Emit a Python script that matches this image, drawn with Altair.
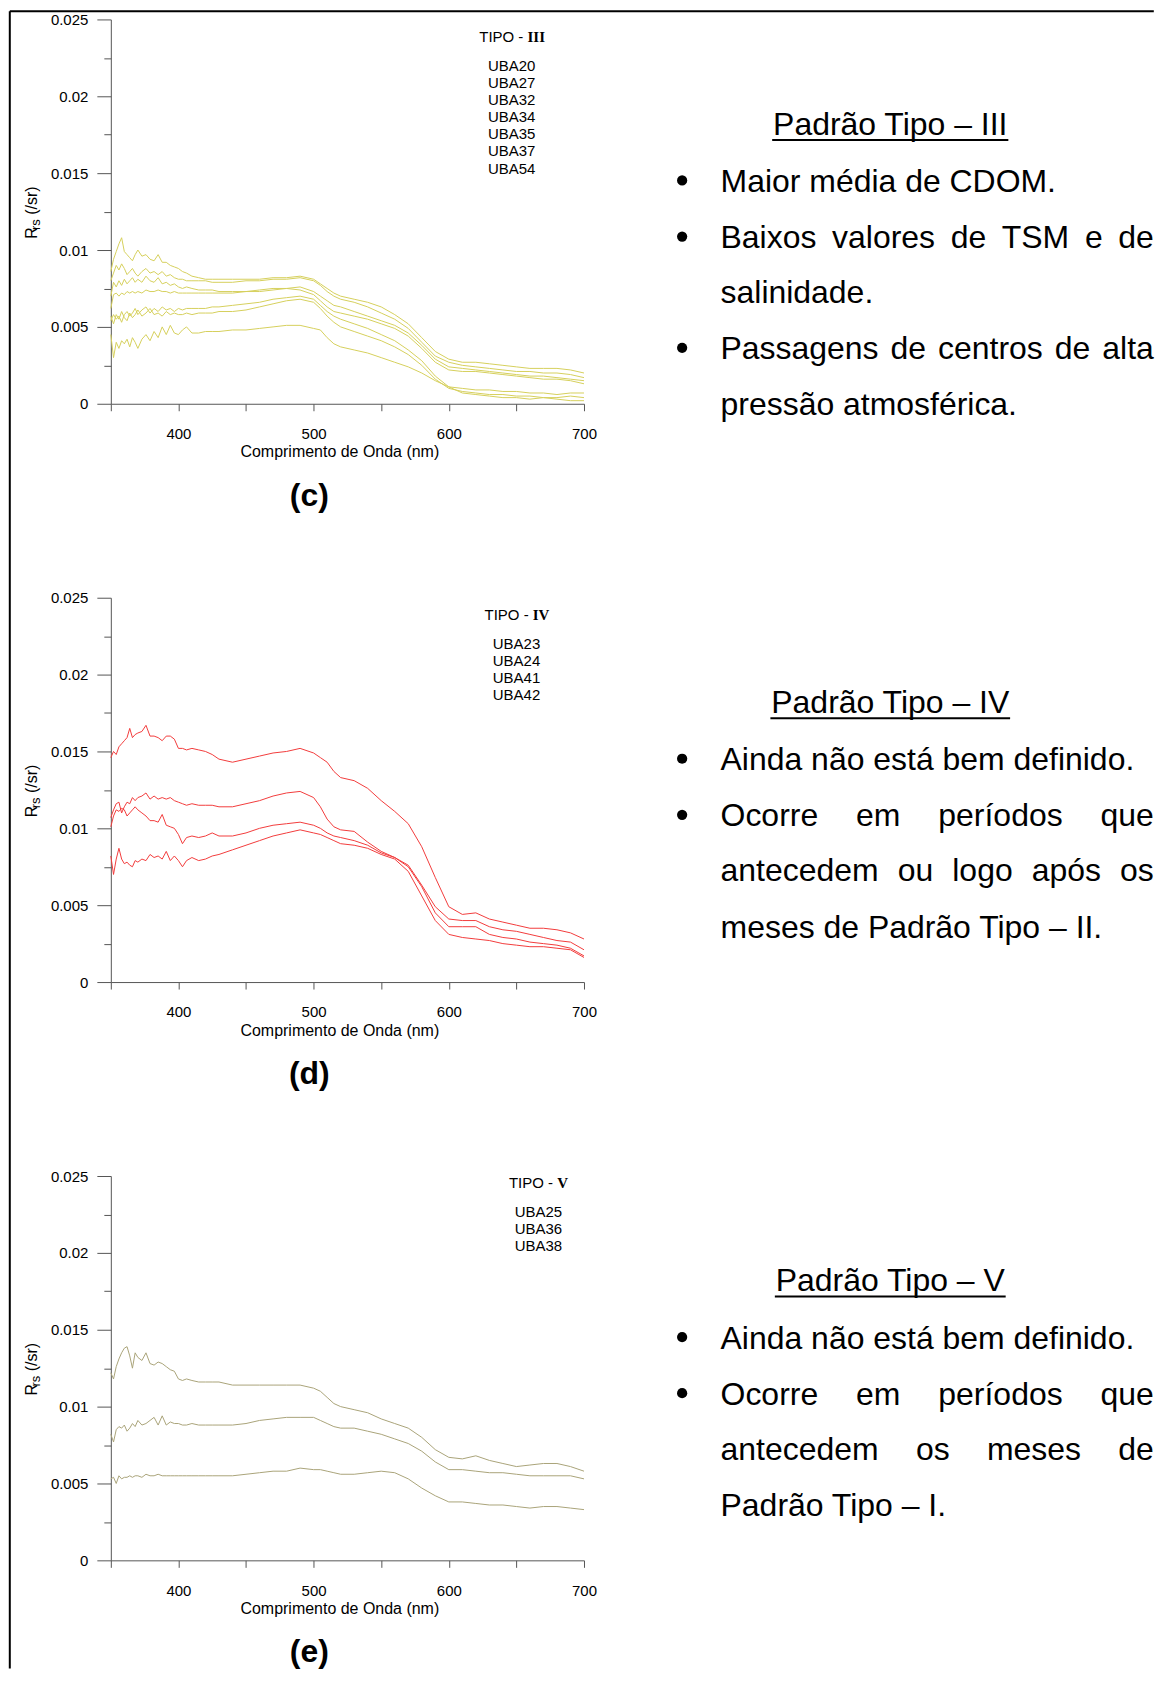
import altair as alt
import pandas as pd

# ---------------- data ----------------
WL = [350, 352, 354, 356, 358, 360, 362, 364, 366, 368, 370,
      373, 376, 379, 382, 385, 388, 391, 394, 397,
      400, 403, 406, 410, 415, 420, 425, 430,
      440, 450, 460, 470, 480, 490, 500,
      505, 510, 515, 520,
      530, 540, 550, 560, 570, 580, 590, 600, 610,
      620, 630, 640, 650, 660, 670, 680, 690, 700]

C_NAMES = ["UBA20", "UBA27", "UBA32", "UBA34", "UBA35", "UBA37", "UBA54"]
C1 = [0.0086, 0.0094, 0.0099, 0.0104, 0.0108, 0.0099, 0.0097, 0.0095, 0.0093, 0.0097, 0.0100,
      0.0096, 0.0097, 0.0094, 0.0093, 0.0097, 0.0092, 0.0092, 0.0090, 0.0089,
      0.0088, 0.0086, 0.0085, 0.0083, 0.0082, 0.0081, 0.0081, 0.0081,
      0.0081, 0.0081, 0.0081, 0.0082, 0.0082, 0.0083, 0.0081,
      0.0078, 0.0075, 0.0072, 0.0070,
      0.0068, 0.0066, 0.0063, 0.0058, 0.0052, 0.0043, 0.0034, 0.0029, 0.0027,
      0.0027, 0.0026, 0.0025, 0.0024, 0.0023, 0.0023, 0.0023, 0.0022, 0.0020]
C2 = [0.0080, 0.0085, 0.0090, 0.0087, 0.0091, 0.0088, 0.0084, 0.0086, 0.0088, 0.0085, 0.0083,
      0.0086, 0.0088, 0.0085, 0.0086, 0.0084, 0.0086, 0.0083, 0.0084, 0.0082,
      0.0081, 0.0081, 0.0080, 0.0080, 0.0080, 0.0080, 0.0079, 0.0079,
      0.0079, 0.0080, 0.0080, 0.0081, 0.0081, 0.0082, 0.0080,
      0.0077, 0.0073, 0.0070, 0.0068,
      0.0066, 0.0063, 0.0059, 0.0055, 0.0049, 0.0040, 0.0031, 0.0027, 0.0025,
      0.0024, 0.0023, 0.0022, 0.0021, 0.0021, 0.0020, 0.0020, 0.0019, 0.0017]
C3 = [0.0070, 0.0079, 0.0076, 0.0080, 0.0077, 0.0081, 0.0078, 0.0080, 0.0082, 0.0079, 0.0081,
      0.0079, 0.0083, 0.0080, 0.0079, 0.0082, 0.0078, 0.0079, 0.0077, 0.0078,
      0.0076, 0.0075, 0.0076, 0.0075, 0.0074, 0.0074, 0.0074, 0.0073,
      0.0073, 0.0073, 0.0074, 0.0075, 0.0075, 0.0076, 0.0073,
      0.0070, 0.0067, 0.0064, 0.0063,
      0.0060, 0.0057, 0.0054, 0.0051, 0.0046, 0.0038, 0.0029, 0.0024, 0.0023,
      0.0022, 0.0021, 0.0020, 0.0019, 0.0018, 0.0018, 0.0017, 0.0016, 0.0015]
C4 = [0.0062, 0.0071, 0.0072, 0.0070, 0.0072, 0.0071, 0.0073, 0.0072, 0.0073, 0.0072, 0.0073,
      0.0072, 0.0074, 0.0073, 0.0073, 0.0074, 0.0073, 0.0073, 0.0072, 0.0073,
      0.0072, 0.0072, 0.0072, 0.0072, 0.0072, 0.0072, 0.0072, 0.0072,
      0.0072, 0.0073, 0.0073, 0.0074, 0.0075, 0.0074, 0.0071,
      0.0067, 0.0063, 0.0060, 0.0059,
      0.0057, 0.0055, 0.0052, 0.0049, 0.0044, 0.0036, 0.0027, 0.0022, 0.0021,
      0.0021, 0.0020, 0.0019, 0.0018, 0.0017, 0.0016, 0.0016, 0.0015, 0.0013]
C5 = [0.0054, 0.0058, 0.0055, 0.0057, 0.0053, 0.0058, 0.0060, 0.0057, 0.0059, 0.0062, 0.0058,
      0.0061, 0.0063, 0.0059, 0.0062, 0.0060, 0.0063, 0.0061, 0.0062, 0.0060,
      0.0062, 0.0061, 0.0062, 0.0062, 0.0062, 0.0062, 0.0063, 0.0063,
      0.0064, 0.0065, 0.0066, 0.0068, 0.0069, 0.0070, 0.0068,
      0.0064, 0.0060, 0.0057, 0.0055,
      0.0052, 0.0049, 0.0045, 0.0041, 0.0035, 0.0028, 0.0018, 0.0011, 0.0010,
      0.0009, 0.0009, 0.0008, 0.0008, 0.0007, 0.0007, 0.0006, 0.0007, 0.0007]
C6 = [0.0057, 0.0052, 0.0058, 0.0055, 0.0060, 0.0056, 0.0054, 0.0059, 0.0056, 0.0058, 0.0061,
      0.0057, 0.0059, 0.0062, 0.0058, 0.0059, 0.0057, 0.0060, 0.0058, 0.0059,
      0.0058, 0.0058, 0.0059, 0.0058, 0.0059, 0.0059, 0.0059, 0.0060,
      0.0060, 0.0061, 0.0063, 0.0065, 0.0067, 0.0068, 0.0066,
      0.0062, 0.0057, 0.0053, 0.0050,
      0.0047, 0.0044, 0.0041, 0.0037, 0.0032, 0.0025, 0.0016, 0.0010, 0.0008,
      0.0007, 0.0006, 0.0006, 0.0005, 0.0005, 0.0004, 0.0004, 0.0005, 0.0004]
C7 = [0.0045, 0.0030, 0.0040, 0.0036, 0.0041, 0.0039, 0.0042, 0.0037, 0.0043, 0.0040, 0.0036,
      0.0042, 0.0045, 0.0041, 0.0047, 0.0043, 0.0050, 0.0045, 0.0051, 0.0046,
      0.0045, 0.0048, 0.0050, 0.0046, 0.0046, 0.0047, 0.0047, 0.0047,
      0.0048, 0.0048, 0.0049, 0.0050, 0.0051, 0.0051, 0.0049,
      0.0048, 0.0043, 0.0039, 0.0037,
      0.0035, 0.0033, 0.0030, 0.0027, 0.0024, 0.0020, 0.0015, 0.0011, 0.0007,
      0.0006, 0.0005, 0.0004, 0.0004, 0.0003, 0.0004, 0.0003, 0.0002, 0.0002]

D_NAMES = ["UBA23", "UBA24", "UBA41", "UBA42"]
D1 = [0.0146, 0.0150, 0.0148, 0.0153, 0.0155, 0.0157, 0.0159, 0.0165, 0.0159, 0.0161, 0.0162,
      0.0163, 0.0167, 0.0160, 0.0160, 0.0159, 0.0157, 0.0160, 0.0160, 0.0158,
      0.0152, 0.0152, 0.0151, 0.0152, 0.0151, 0.0150, 0.0148, 0.0145,
      0.0143, 0.0145, 0.0147, 0.0149, 0.0150, 0.0152, 0.0149,
      0.0146, 0.0143, 0.0137, 0.0133,
      0.0131, 0.0126, 0.0118, 0.0111, 0.0103, 0.0088, 0.0068, 0.0049, 0.0044,
      0.0045, 0.0041, 0.0039, 0.0037, 0.0035, 0.0035, 0.0034, 0.0032, 0.0028]
D2 = [0.0107, 0.0112, 0.0116, 0.0117, 0.0110, 0.0114, 0.0117, 0.0116, 0.0120, 0.0118, 0.0120,
      0.0121, 0.0123, 0.0119, 0.0121, 0.0119, 0.0120, 0.0119, 0.0120, 0.0118,
      0.0117, 0.0116, 0.0115, 0.0116, 0.0115, 0.0115, 0.0115, 0.0114,
      0.0114, 0.0116, 0.0118, 0.0121, 0.0123, 0.0124, 0.0120,
      0.0114, 0.0106, 0.0101, 0.0099,
      0.0098, 0.0091, 0.0085, 0.0081, 0.0076, 0.0063, 0.0049, 0.0041, 0.0040,
      0.0040, 0.0036, 0.0034, 0.0033, 0.0031, 0.0029, 0.0027, 0.0026, 0.0021]
D3 = [0.0101, 0.0108, 0.0112, 0.0111, 0.0113, 0.0112, 0.0108, 0.0110, 0.0112, 0.0114, 0.0112,
      0.0110, 0.0108, 0.0105, 0.0105, 0.0104, 0.0109, 0.0102, 0.0101, 0.0100,
      0.0096, 0.0090, 0.0094, 0.0095, 0.0094, 0.0095, 0.0097, 0.0095,
      0.0095, 0.0097, 0.0100, 0.0102, 0.0103, 0.0104, 0.0102,
      0.0100, 0.0097, 0.0095, 0.0094,
      0.0092, 0.0089, 0.0084, 0.0081, 0.0075, 0.0062, 0.0045, 0.0036, 0.0036,
      0.0036, 0.0031, 0.0029, 0.0028, 0.0026, 0.0025, 0.0024, 0.0022, 0.0017]
D4 = [0.0082, 0.0070, 0.0080, 0.0087, 0.0080, 0.0077, 0.0078, 0.0076, 0.0075, 0.0079, 0.0078,
      0.0080, 0.0079, 0.0083, 0.0081, 0.0082, 0.0080, 0.0085, 0.0079, 0.0082,
      0.0079, 0.0075, 0.0079, 0.0081, 0.0079, 0.0080, 0.0082, 0.0083,
      0.0086, 0.0089, 0.0092, 0.0095, 0.0097, 0.0099, 0.0097,
      0.0096, 0.0094, 0.0092, 0.0090,
      0.0089, 0.0087, 0.0083, 0.0080, 0.0072, 0.0056, 0.0040, 0.0031, 0.0029,
      0.0028, 0.0027, 0.0025, 0.0024, 0.0023, 0.0023, 0.0022, 0.0021, 0.0016]

E_NAMES = ["UBA25", "UBA36", "UBA38"]
E1 = [0.0122, 0.0118, 0.0126, 0.0131, 0.0135, 0.0138, 0.0139, 0.0133, 0.0125, 0.0135, 0.0132,
      0.0130, 0.0135, 0.0128, 0.0127, 0.0129, 0.0128, 0.0126, 0.0124, 0.0123,
      0.0118, 0.0117, 0.0118, 0.0117, 0.0116, 0.0116, 0.0116, 0.0116,
      0.0114, 0.0114, 0.0114, 0.0114, 0.0114, 0.0114, 0.0112,
      0.0110, 0.0106, 0.0102, 0.0100,
      0.0098, 0.0096, 0.0092, 0.0089, 0.0086, 0.0080, 0.0072, 0.0067, 0.0066,
      0.0068, 0.0065, 0.0063, 0.0061, 0.0062, 0.0063, 0.0063, 0.0061, 0.0058]
E2 = [0.0082, 0.0077, 0.0085, 0.0087, 0.0086, 0.0088, 0.0084, 0.0086, 0.0089, 0.0087, 0.0091,
      0.0088, 0.0089, 0.0091, 0.0093, 0.0088, 0.0094, 0.0088, 0.0090, 0.0089,
      0.0089, 0.0088, 0.0088, 0.0089, 0.0088, 0.0088, 0.0088, 0.0088,
      0.0088, 0.0089, 0.0091, 0.0092, 0.0093, 0.0093, 0.0093,
      0.0091, 0.0089, 0.0087, 0.0086,
      0.0086, 0.0084, 0.0082, 0.0079, 0.0076, 0.0071, 0.0064, 0.0059, 0.0059,
      0.0058, 0.0057, 0.0057, 0.0056, 0.0055, 0.0055, 0.0055, 0.0055, 0.0053]
E3 = [0.0053, 0.0054, 0.0050, 0.0055, 0.0053, 0.0054, 0.0054, 0.0055, 0.0054, 0.0055, 0.0055,
      0.0054, 0.0056, 0.0055, 0.0055, 0.0056, 0.0055, 0.0055, 0.0055, 0.0055,
      0.0055, 0.0055, 0.0055, 0.0055, 0.0055, 0.0055, 0.0055, 0.0055,
      0.0055, 0.0056, 0.0057, 0.0058, 0.0058, 0.0060, 0.0059,
      0.0059, 0.0058, 0.0057, 0.0056,
      0.0056, 0.0057, 0.0058, 0.0057, 0.0053, 0.0047, 0.0042, 0.0038, 0.0038,
      0.0037, 0.0036, 0.0036, 0.0035, 0.0034, 0.0035, 0.0035, 0.0034, 0.0033]

X_TICKS = [350, 400, 450, 500, 550, 600, 650, 700]
Y_TICKS = [0, 0.0025, 0.005, 0.0075, 0.01, 0.0125, 0.015, 0.0175, 0.02, 0.0225, 0.025]

TEXT_C = [("Maior média de CDOM.", "left", True),
          ("Baixos valores de TSM e de", "just", True),
          ("salinidade.", "left", False),
          ("Passagens de centros de alta", "just", True),
          ("pressão atmosférica.", "left", False)]
TEXT_D = [("Ainda não está bem definido.", "left", True),
          ("Ocorre em períodos que", "just", True),
          ("antecedem ou logo após os", "just", False),
          ("meses de Padrão Tipo – II.", "left", False)]
TEXT_E = [("Ainda não está bem definido.", "left", True),
          ("Ocorre em períodos que", "just", True),
          ("antecedem os meses de", "just", False),
          ("Padrão Tipo – I.", "left", False)]

# ---------------- layout helpers ----------------
SANS = "Liberation Sans"
SERIF = "Liberation Serif"
W, H = 474, 385
VX0, VY0 = 110.2, 17.2          # page position of first plot area
TXT = 32                        # body text font size
L = 721 - VX0
R = 1155 - VX0
TC = 891 - VX0
BX = 682.5 - VX0
BASE = [172.8, 229.0, 284.0, 340.5, 396.0]
TITLE_Y = 115.3

AW = {' ': 278, 'a': 556, 'b': 556, 'c': 500, 'd': 556, 'e': 556, 'f': 278, 'g': 556,
      'h': 556, 'i': 222, 'l': 222, 'm': 833, 'n': 556, 'o': 556, 'p': 556, 'q': 556,
      'r': 333, 's': 500, 't': 278, 'u': 556, 'v': 500, 'x': 500, 'í': 278, 'ó': 556,
      'á': 556, 'é': 556, 'ã': 556, 'B': 667, 'T': 611, 'S': 667, 'M': 833, 'P': 667,
      'O': 778, 'C': 722, 'D': 722, 'A': 667, 'I': 278, 'V': 667, '.': 278, '–': 556}


def tw(s, size):
    return sum(AW.get(ch, 556) for ch in s) / 1000.0 * size


def one():
    return pd.DataFrame({"k": [0]})


def txt(s, x, y, size, align="left", weight="normal", font=SANS, angle=0):
    return alt.Chart(one()).mark_text(
        text=s, align=align, baseline="alphabetic", fontSize=size, fontWeight=weight,
        font=font, angle=angle, color="black"
    ).encode(x=alt.value(x), y=alt.value(y))


def rule(x1, y1, x2, y2, w):
    return alt.Chart(one()).mark_rule(color="black", strokeWidth=w).encode(
        x=alt.value(x1), y=alt.value(y1), x2=alt.value(x2), y2=alt.value(y2))


def dot(x, y):
    return alt.Chart(one()).mark_circle(size=105, color="black", opacity=1).encode(
        x=alt.value(x), y=alt.value(y))


XAXIS = alt.Axis(values=X_TICKS, labelExpr="datum.value % 100 == 0 ? datum.label : ''",
                 tickSize=7, labelPadding=16, title=None, labelFontSize=15, labelFont=SANS,
                 labelColor="black", domainColor="#555555", tickColor="#555555",
                 labelFlush=False, labelOverlap=False, grid=False, labelAngle=0)
YAXIS = alt.Axis(values=Y_TICKS,
                 labelExpr="round(datum.value*400) % 2 == 0 ? format(datum.value, '~r') : ''",
                 tickSize={"condition": {"test": "round(datum.value*400) % 2 == 0", "value": 14},
                           "value": 7},
                 labelPadding=9, title=None, labelFontSize=15, labelFont=SANS,
                 labelColor="black", domainColor="#555555", tickColor="#555555",
                 labelFlush=False, labelOverlap=False, grid=False)


def panel(names, series, color, tipo_bold, split_x, uba_cx, tipo_y, uba_y,
          label, title, lines, frame=False):
    rows = []
    for nm, vals in zip(names, series):
        for w, v in zip(WL, vals):
            rows.append({"wl": w, "v": v, "s": nm})
    df = pd.DataFrame(rows)
    layers = [alt.Chart(df).mark_line(color=color, strokeWidth=1).encode(
        x=alt.X("wl:Q", scale=alt.Scale(domain=[350, 700], nice=False, zero=False), axis=XAXIS),
        y=alt.Y("v:Q", scale=alt.Scale(domain=[0, 0.025], nice=False), axis=YAXIS),
        detail="s:N")]
    # axis titles
    layers.append(txt("Comprimento de Onda (nm)", 229.4, 438.8, 16, align="center"))
    ry = 219.8
    layers.append(txt("R", -73.7, ry, 16, angle=270))
    ry2 = ry - tw("R", 16)
    layers.append(txt("rs", -70.5, ry2, 13, angle=270))
    ry3 = ry2 - tw("rs", 13) - tw(" ", 16)
    layers.append(txt("(/sr)", -73.7, ry3, 16, angle=270))
    # legend text
    layers.append(txt("TIPO -", split_x - tw(" ", 15), tipo_y, 15, align="right"))
    layers.append(txt(tipo_bold, split_x, tipo_y, 15, weight="bold", font=SERIF))
    for i, nm in enumerate(names):
        layers.append(txt(nm, uba_cx, uba_y + 17.2 * i, 15, align="center"))
    # panel letter
    layers.append(txt(label, 198.8, 487, 32, align="center", weight="bold"))
    # right-hand text
    layers.append(txt(title, TC, TITLE_Y, TXT, align="center"))
    tww = tw(title, TXT)
    layers.append(rule(TC - tww / 2, TITLE_Y + 5.5, TC + tww / 2, TITLE_Y + 5.5, 2))
    for (s, mode, bullet), by in zip(lines, BASE):
        if bullet:
            layers.append(dot(BX, by - 11.5))
        if mode == "left":
            layers.append(txt(s, L, by, TXT))
        else:
            words = s.split(" ")
            widths = [tw(wd, TXT) for wd in words]
            gap = (R - L - sum(widths)) / (len(words) - 1)
            x = L
            for k, (wd, wdw) in enumerate(zip(words, widths)):
                if k == len(words) - 1:
                    layers.append(txt(wd, R, by, TXT, align="right"))
                else:
                    layers.append(txt(wd, x, by, TXT))
                x += wdw + gap
    if frame:
        layers.append(rule(-101.2, -8.2, -101.2, 1652, 2))
        layers.append(rule(-101.2, -8.2, R, -8.2, 2))
    return alt.layer(*layers).properties(width=W, height=H)


pc = panel(C_NAMES, [C1, C2, C3, C4, C5, C6, C7], "#d6d05c", "III", 417.4, 401.5, 22.7, 51.2,
           "(c)", "Padrão Tipo – III", TEXT_C, frame=True)
pd_ = panel(D_NAMES, [D1, D2, D3, D4], "#f23c3c", "IV", 422.7, 406.4, 22.7, 51.2,
            "(d)", "Padrão Tipo – IV", TEXT_D)
pe = panel(E_NAMES, [E1, E2, E3], "#aaa479", "V", 447.1, 428.4, 11.6, 40.6,
           "(e)", "Padrão Tipo – V", TEXT_E)

chart = alt.vconcat(pc, pd_, pe, spacing=194.3, bounds="flush").properties(
    padding=0
).configure(font=SANS).configure_view(stroke=None, strokeWidth=0)

chart.save("out.html", embed_options={"renderer": "svg", "actions": False})
